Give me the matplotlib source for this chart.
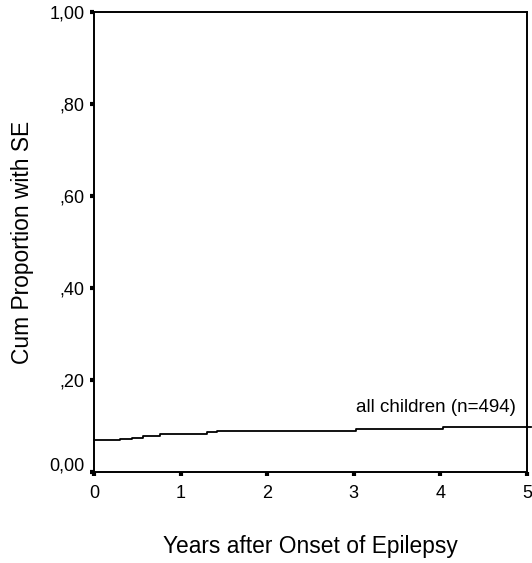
#!/usr/bin/env python3
# -*- coding: utf-8 -*-
"""Cumulative proportion (Kaplan-Meier style step curve), all children."""

import matplotlib
matplotlib.use("Agg")
import matplotlib.pyplot as plt
import matplotlib.transforms as mtransforms
from matplotlib.ticker import FuncFormatter

# -------------------------------------------------
# DATA
# -------------------------------------------------
step_years = [0.0, 0.30, 0.44, 0.57, 0.76, 1.30, 1.42, 3.03, 4.03, 5.05]
cum_prop = [0.069, 0.072, 0.075, 0.079, 0.083, 0.086, 0.090, 0.094, 0.097, 0.097]

x_ticks = [0, 1, 2, 3, 4, 5]
y_ticks = [0.0, 0.2, 0.4, 0.6, 0.8, 1.0]
group_label = "all children (n=494)"


def fmt_comma(v, _pos=None):
    """0.2 -> ',20' ; 1.0 -> '1,00' (estilo SPSS)"""
    s = f"{v:.2f}".replace(".", ",")
    if s.startswith("0,") and v != 0:
        s = s[1:]
    return s


plt.rcParams["font.family"] = ["Liberation Sans", "DejaVu Sans"]

fig = plt.figure(figsize=(5.32, 5.63), dpi=100)
ax = fig.add_axes([0.1767, 0.1616, 0.8139, 0.8171])

ax.step(step_years, cum_prop, where="post", color="black", linewidth=1.3,
        clip_on=False, zorder=3)

ax.text(3.95, 0.141, group_label, ha="center", va="center", fontsize=13.5)

ax.set_xlim(0, 5)
ax.set_ylim(0, 1.0)
ax.set_xticks(x_ticks)
ax.set_yticks(y_ticks)
ax.yaxis.set_major_formatter(FuncFormatter(fmt_comma))

for sp in ax.spines.values():
    sp.set_linewidth(1.4)
ax.tick_params(direction="out", length=3, width=3, labelsize=13, pad=4)
ax.tick_params(axis="x", pad=6)

# la etiqueta 0,00 va un poco por encima del eje, como en SPSS
lbl0 = ax.get_yticklabels()[0]
lbl0.set_transform(lbl0.get_transform() +
                   mtransforms.ScaledTranslation(0, 8 / 100, fig.dpi_scale_trans))

ax.set_xlabel("Years after Onset of Epilepsy", fontsize=16.4, va="center")
ax.set_ylabel("Cum Proportion with SE", fontsize=16.4, va="center")
ax.xaxis.set_label_coords(0.5, -0.161)
ax.yaxis.set_label_coords(-0.164, 0.5)

fig.savefig("out.png", dpi=100)
plt.close(fig)
